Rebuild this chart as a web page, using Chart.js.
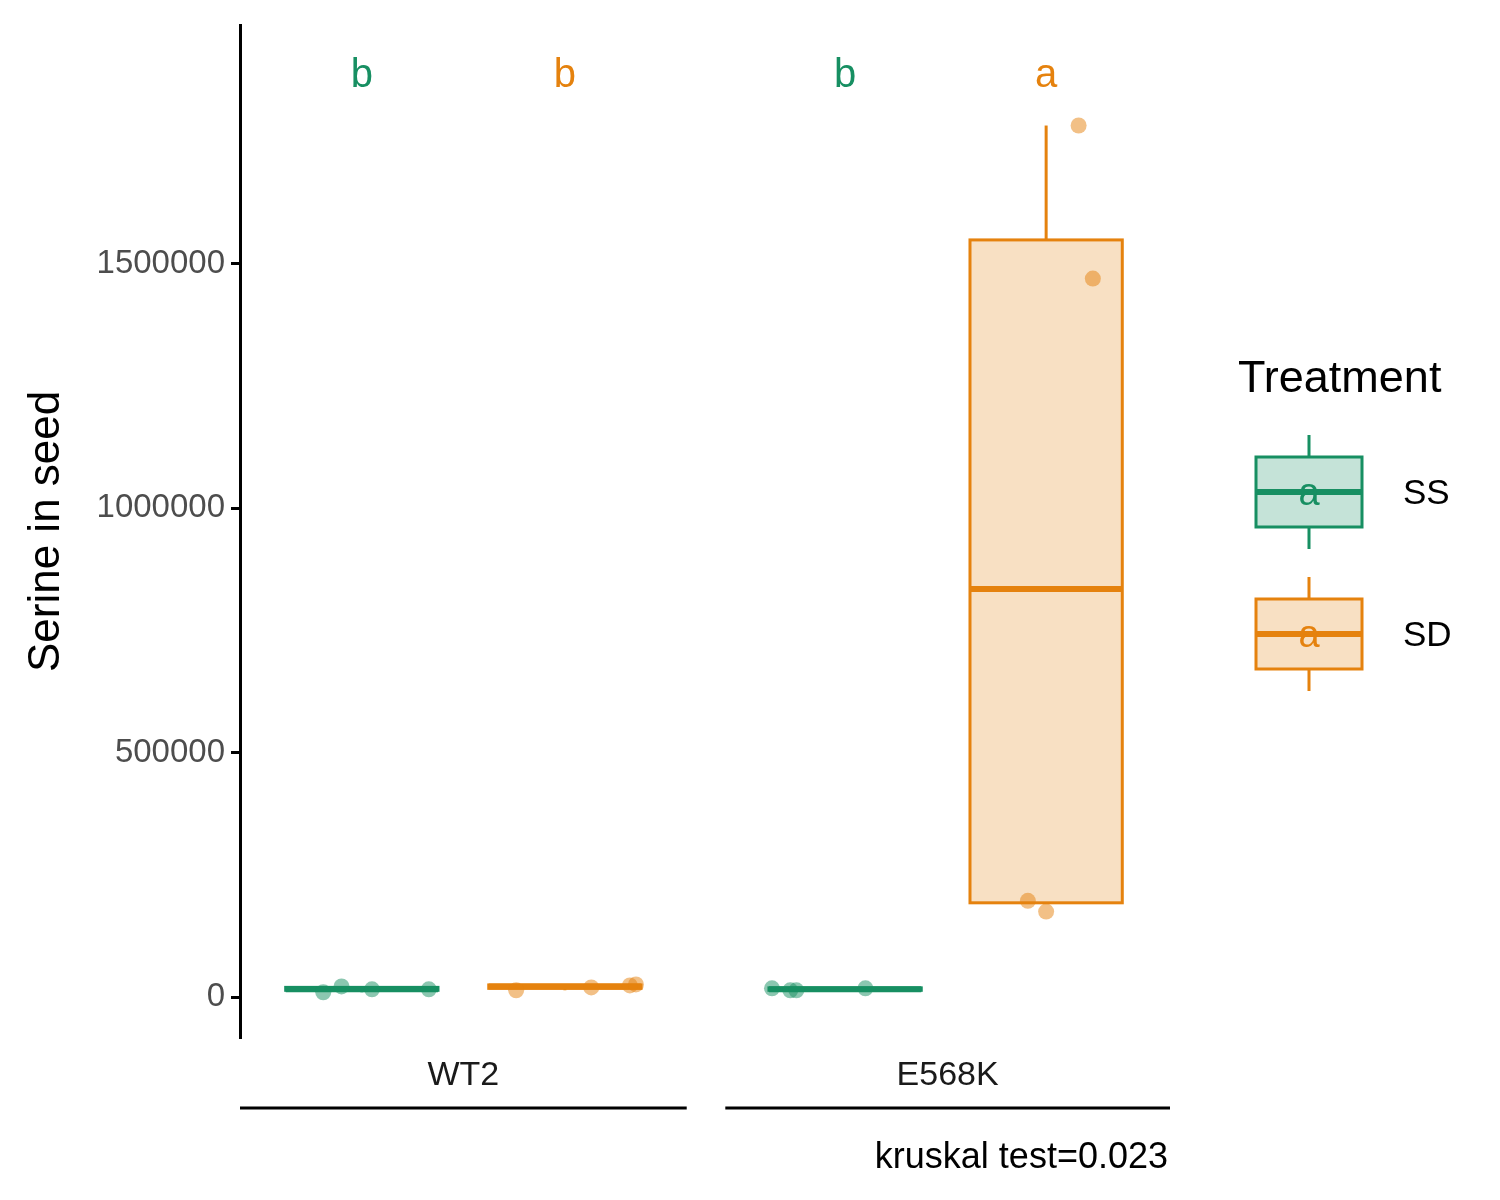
<!DOCTYPE html>
<html>
<head>
<meta charset="utf-8">
<script src="https://cdn.jsdelivr.net/npm/chart.js@4"></script>
<style>body{margin:0;background:#fff}</style>
</head>
<body>
<canvas id="c" width="1500" height="1200"></canvas>
<script>
// group positions on x: WT2 (SS, SD), E568K (SS, SD)
const genotypes = ['WT2', 'E568K'];
const treatments = ['SS', 'SD'];
const boxX = [1, 2, 3.38, 4.37];
const boxTreat = [0, 1, 0, 1];
const boxMin = [10000, 14000, 14000, 193000];
const boxQ1 = [14000, 18000, 14000, 193000];
const boxMed = [16000, 22000, 16000, 835000];
const boxQ3 = [20000, 25000, 19000, 1549000];
const boxMax = [22000, 26000, 18000, 1783000];
const letters = ['b', 'b', 'b', 'a'];
const ptsX = [[0.81, 0.9, 1.05, 1.33], [1.76, 2.13, 2.32, 2.35], [3.02, 3.11, 3.14, 3.48], [4.28, 4.6, 4.53, 4.37]];
const ptsY = [[10000, 22000, 16000, 16000], [14000, 20000, 24000, 26000], [18000, 14000, 14000, 18000], [197000, 1470000, 1783000, 175000]];
const yTicks = [0, 500000, 1000000, 1500000];

const lineCol = ['#178f62', '#e5820e'];
const fillCol = ['rgba(23,143,98,0.25)', 'rgba(229,130,14,0.25)'];
const ptCol = ['rgba(23,143,98,0.5)', 'rgba(229,130,14,0.5)'];
const halfW = 0.375;
const FONT = 'Arial, "Liberation Sans"';

const datasets = ptsX.map((xs, i) => ({
  data: xs.map((x, j) => ({x: x, y: ptsY[i][j]})),
  backgroundColor: ptCol[boxTreat[i]],
  borderWidth: 0,
  pointRadius: 8
}));

function drawBox(ctx, cx, yq1, ymed, yq3, ymin, ymax, hw, t, lw) {
  ctx.save();
  ctx.strokeStyle = lineCol[t];
  ctx.lineWidth = lw;
  ctx.beginPath(); ctx.moveTo(cx, yq3); ctx.lineTo(cx, ymax); ctx.moveTo(cx, yq1); ctx.lineTo(cx, ymin); ctx.stroke();
  ctx.fillStyle = fillCol[t];
  ctx.fillRect(cx - hw, yq3, 2 * hw, yq1 - yq3);
  ctx.strokeRect(cx - hw, yq3, 2 * hw, yq1 - yq3);
  ctx.lineWidth = lw * 2;
  ctx.beginPath(); ctx.moveTo(cx - hw, ymed); ctx.lineTo(cx + hw, ymed); ctx.stroke();
  ctx.restore();
}

const boxPlugin = {
  id: 'boxes',
  beforeDatasetsDraw(chart) {
    const {ctx, scales: {x, y}} = chart;
    boxX.forEach((bx, i) => {
      const cx = x.getPixelForValue(bx);
      const hw = x.getPixelForValue(bx + halfW) - cx;
      drawBox(ctx, cx, y.getPixelForValue(boxQ1[i]), y.getPixelForValue(boxMed[i]), y.getPixelForValue(boxQ3[i]),
        y.getPixelForValue(boxMin[i]), y.getPixelForValue(boxMax[i]), hw, boxTreat[i], 3);
    });
  },
  afterDraw(chart) {
    const {ctx, scales: {x, y}} = chart;
    ctx.save();
    ctx.font = '40px ' + FONT;
    ctx.textAlign = 'center'; ctx.textBaseline = 'middle';
    boxX.forEach((bx, i) => {
      ctx.fillStyle = lineCol[boxTreat[i]];
      ctx.fillText(letters[i], x.getPixelForValue(bx), y.getPixelForValue(1885000));
    });
    // facet strips
    const panels = [[0.4, 2.6], [2.79, 4.98]];
    ctx.fillStyle = '#1a1a1a'; ctx.strokeStyle = '#000'; ctx.lineWidth = 3;
    ctx.font = '34px ' + FONT;
    panels.forEach((p, i) => {
      const a = x.getPixelForValue(p[0]), b = x.getPixelForValue(p[1]);
      ctx.fillText(genotypes[i], (a + b) / 2, 1076);
      ctx.beginPath(); ctx.moveTo(a, 1108); ctx.lineTo(b, 1108); ctx.stroke();
    });
    ctx.textAlign = 'right';
    ctx.fillStyle = '#000';
    ctx.font = '36px ' + FONT;
    ctx.fillText('kruskal test=0.023', 1168, 1158);
    // legend
    ctx.textAlign = 'left';
    ctx.font = '45px ' + FONT;
    ctx.fillText('Treatment', 1238, 380);
    treatments.forEach((t, i) => {
      const top = 457 + i * 142;
      drawBox(ctx, 1309, top + 70, top + 35, top, top + 92, top - 22, 53, i, 3);
      ctx.fillStyle = lineCol[i];
      ctx.textAlign = 'center';
      ctx.font = '38px ' + FONT;
      ctx.fillText('a', 1309, top + 38);
      ctx.fillStyle = '#000';
      ctx.textAlign = 'left';
      ctx.font = '35px ' + FONT;
      ctx.fillText(t, 1403, top + 37);
    });
    ctx.restore();
  }
};

new Chart(document.getElementById('c'), {
  type: 'scatter',
  data: {datasets: datasets},
  options: {
    responsive: false,
    devicePixelRatio: 1,
    animation: false,
    layout: {padding: {top: 22, right: 330, bottom: 163, left: 16}},
    plugins: {legend: {display: false}, tooltip: {enabled: false}},
    scales: {
      x: {type: 'linear', min: 0.4, max: 4.98, display: false},
      y: {
        min: -81500, max: 1987000,
        afterFit(s) { s.width = 224; },
        afterBuildTicks(s) { s.ticks = yTicks.map(v => ({value: v})); },
        grid: {display: true, drawOnChartArea: false, tickLength: 9, color: '#000', lineWidth: 3},
        border: {display: true, color: '#000', width: 3},
        ticks: {color: '#4d4d4d', font: {size: 33, family: FONT}, padding: 6, callback: v => String(v)},
        title: {display: true, text: 'Serine in seed', color: '#000', font: {size: 44, family: FONT}, padding: {bottom: 8}}
      }
    }
  },
  plugins: [boxPlugin]
});
</script>
</body>
</html>
